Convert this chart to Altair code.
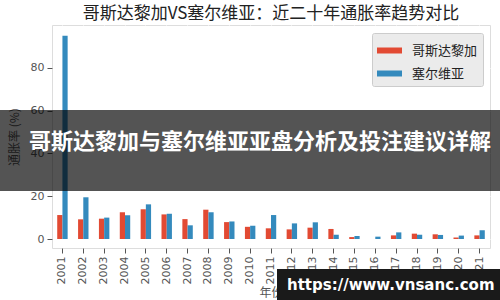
import altair as alt
import pandas as pd

years = [str(y) for y in range(2001, 2022)]
countries = ["哥斯达黎加", "塞尔维亚"]
costa_rica = [11.2, 9.2, 9.5, 12.5, 13.9, 11.5, 9.3, 13.7, 7.9, 5.7, 5.0, 4.5, 5.3, 4.7, 0.9, 0.0, 1.7, 2.5, 2.2, 0.7, 1.7]
serbia = [95.0, 19.5, 10.0, 11.1, 16.2, 11.8, 6.4, 12.5, 8.2, 6.2, 11.2, 7.3, 7.8, 2.0, 1.4, 1.1, 3.1, 2.0, 1.9, 1.6, 4.1]
y_ticks = [0, 20, 40, 60, 80]
colors = ["#E24A33", "#348ABD"]

title_text = "哥斯达黎加VS塞尔维亚：近二十年通胀率趋势对比"
y_title = "通胀率 (%)"
x_title = "年份"
banner_text = "哥斯达黎加与塞尔维亚亚盘分析及投注建议详解"
watermark_text = "https://www.vnsanc.com"

rows = []
for i, y in enumerate(years):
    rows.append({"year": y, "country": countries[0], "value": costa_rica[i]})
    rows.append({"year": y, "country": countries[1], "value": serbia[i]})
df = pd.DataFrame(rows)
one = pd.DataFrame({"k": [0]})

cjk = "Noto Sans CJK SC"

bars = alt.Chart(df).mark_bar().encode(
    x=alt.X("year:N", sort=years,
            scale=alt.Scale(paddingInner=0.5, paddingOuter=0.25),
            axis=alt.Axis(title=x_title, labelAngle=270, grid=True, gridColor="white",
                          gridWidth=1, bandPosition=0.5, domain=False, tickSize=5,
                          tickColor="#555", labelPadding=3, labelFontSize=11,
                          labelColor="#555", labelFont="DejaVu Sans",
                          titleFont=cjk, titleFontSize=12, titleColor="#555",
                          titleFontWeight="normal", titlePadding=4)),
    xOffset=alt.XOffset("country:N", sort=countries, scale=alt.Scale(paddingInner=0, paddingOuter=0)),
    y=alt.Y("value:Q", stack=None,
            scale=alt.Scale(domain=[-4.2, 100], nice=False, zero=False),
            axis=alt.Axis(title=y_title, values=y_ticks, grid=True, gridColor="white",
                          gridWidth=1, domain=False, tickSize=5, tickColor="#555",
                          labelPadding=3, labelFontSize=11, labelColor="#555",
                          labelFont="DejaVu Sans", titleFont=cjk, titleFontSize=12,
                          titleColor="#555", titleFontWeight="normal", titlePadding=9)),
    y2=alt.datum(0),
    color=alt.Color("country:N", sort=countries,
                    scale=alt.Scale(domain=countries, range=colors),
                    legend=alt.Legend(title=None, orient="none", legendX=320, legendY=8,
                                      symbolType="M-1,-0.24H1V0.24H-1Z", symbolSize=625,
                                      symbolStrokeWidth=0, labelFont=cjk, labelFontSize=13,
                                      labelColor="#222", labelOffset=10, rowPadding=3,
                                      padding=5, fillColor="#EBEBEB", strokeColor="#CCCCCC",
                                      cornerRadius=2)),
)

banner_rect = alt.Chart(one).mark_rect(color="black", opacity=0.67).encode(
    x=alt.value(-52), x2=alt.value(448), y=alt.value(85), y2=alt.value(166))
banner = alt.Chart(one).mark_text(text=banner_text, color="white", font=cjk, fontSize=22,
                                  fontWeight="bold", align="left", baseline="middle").encode(
    x=alt.value(-23), y=alt.value(117))
wm_rect = alt.Chart(one).mark_rect(color="#1a1a1a", opacity=1).encode(
    x=alt.value(225), x2=alt.value(448), y=alt.value(244), y2=alt.value(275))
wm = alt.Chart(one).mark_text(text=watermark_text, color="white", font="DejaVu Sans", fontSize=15,
                              fontWeight="bold", align="left", baseline="middle").encode(
    x=alt.value(235), y=alt.value(260))

chart = alt.layer(bars, banner_rect, banner, wm_rect, wm).properties(
    width=438, height=223,
    title=alt.TitleParams(title_text, font=cjk, fontSize=17, fontWeight="normal",
                          color="#222", anchor="middle", offset=2),
    autosize=alt.AutoSizeParams(type="none"),
    padding={"left": 52, "top": 25, "right": 10, "bottom": 52},
).configure_view(fill="#E5E5E5", strokeWidth=0).configure(background="white")

chart.save("out.html", embed_options={"renderer": "svg", "actions": False})
